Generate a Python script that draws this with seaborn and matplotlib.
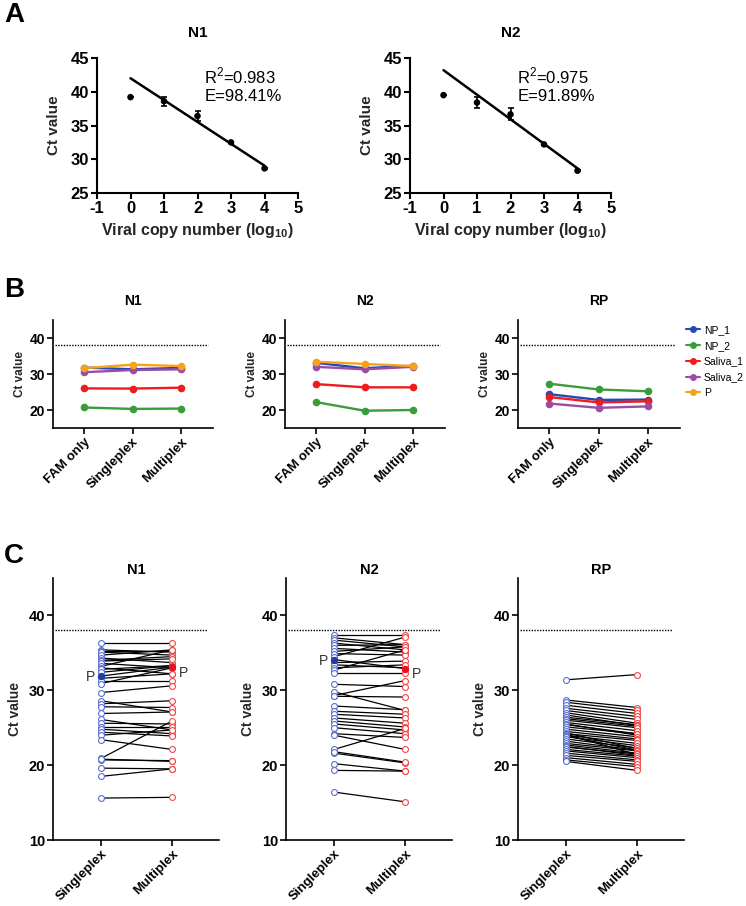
import numpy as np
import pandas as pd
import matplotlib
matplotlib.use('Agg')
import matplotlib.pyplot as plt
import seaborn as sns
from matplotlib.lines import Line2D

sns.set_theme(style='ticks')
plt.rcParams['font.family'] = ['Liberation Sans', 'DejaVu Sans']
plt.rcParams['mathtext.fontset'] = 'custom'
plt.rcParams['mathtext.rm'] = 'Liberation Sans'
plt.rcParams['mathtext.bf'] = 'Liberation Sans:bold'
plt.rcParams['axes.unicode_minus'] = False
plt.rcParams['axes.edgecolor'] = 'black'
plt.rcParams['xtick.color'] = 'black'
plt.rcParams['ytick.color'] = 'black'
plt.rcParams['text.color'] = 'black'

# ---------------- data ----------------
# panel A: standard curves
a_log_copies = [0, 1, 2, 3, 4]
a_n1_ct = [39.2, 38.6, 36.4, 32.5, 28.65]
a_n1_err = [0.0, 0.65, 0.7, 0.1, 0.1]
a_n2_ct = [39.5, 38.4, 36.65, 32.2, 28.3]
a_n2_err = [0.0, 0.85, 0.9, 0.1, 0.1]
a_fit_x = [0, 4]
a_n1_fit = [42.0, 29.05]
a_n2_fit = [43.2, 28.65]
a_n1_text = ['R$^{\\mathrm{2}}$=0.983', 'E=98.41%']
a_n2_text = ['R$^{\\mathrm{2}}$=0.975', 'E=91.89%']

# panel B: sample Ct per assay format
b_conditions = ['FAM only', 'Singleplex', 'Multiplex']
b_samples = ['NP_1', 'NP_2', 'Saliva_1', 'Saliva_2', 'P']
b_colors = ['#2448b4', '#3a9c3a', '#ee1c1c', '#9b4ca6', '#f7a21b']
b_n1 = [[31.8, 31.3, 31.7],
        [20.7, 20.3, 20.4],
        [26.0, 25.95, 26.2],
        [30.5, 31.1, 31.3],
        [31.6, 32.6, 32.2]]
b_n2 = [[33.1, 31.6, 32.3],
        [22.2, 19.8, 20.0],
        [27.2, 26.3, 26.3],
        [32.0, 31.3, 32.0],
        [33.4, 32.8, 32.2]]
b_rp = [[24.4, 22.8, 22.9],
        [27.3, 25.7, 25.2],
        [23.6, 22.1, 22.4],
        [21.8, 20.6, 21.0]]
b_rp_samples = ['NP_1', 'NP_2', 'Saliva_1', 'Saliva_2']

# panel C: paired clinical samples
c_conditions = ['Singleplex', 'Multiplex']
c_n1_single = [36.3, 35.4, 35.2, 35.1, 34.7, 34.3, 34.0, 33.9, 33.6, 33.2, 33.0, 32.8,
               32.4, 31.9, 31.6, 31.2, 30.9, 29.7, 28.6, 28.2, 27.8, 26.9, 26.1, 25.6,
               25.1, 24.8, 24.4, 24.0, 23.4, 20.9, 20.7, 20.8, 19.6, 18.5, 15.6]
c_n1_multi = [36.3, 35.1, 35.2, 34.7, 35.4, 33.7, 34.5, 34.2, 33.0, 35.4, 32.2, 33.3,
              33.3, 33.1, 32.2, 31.2, 33.0, 30.6, 27.1, 28.6, 27.7, 27.1, 24.7, 25.5,
              25.1, 24.2, 23.9, 24.7, 22.1, 25.9, 20.6, 20.5, 19.5, 19.5, 15.7]
c_n1_p = 13
c_n2_single = [37.4, 37.0, 36.7, 36.3, 36.0, 35.6, 35.2, 34.9, 34.5, 34.1, 33.7, 33.4,
               33.0, 32.7, 32.3, 30.8, 29.8, 29.2, 29.3, 27.9, 27.2, 26.8, 26.3, 25.9,
               25.5, 25.0, 24.2, 24.0, 22.1, 21.6, 21.8, 20.2, 19.3, 16.4]
c_n2_multi = [37.4, 36.1, 35.8, 35.4, 36.1, 35.1, 35.8, 34.7, 37.1, 32.9, 33.9, 33.0,
              33.4, 35.4, 32.3, 30.5, 27.3, 29.1, 31.3, 27.4, 26.8, 26.3, 25.6, 25.1,
              24.7, 24.2, 23.7, 22.1, 24.9, 20.3, 20.4, 19.2, 19.2, 15.1]
c_n2_p = 9
c_rp_single = [31.4, 28.7, 28.4, 28.0, 27.6, 27.3, 27.0, 26.7, 26.4, 26.2, 26.0, 25.7,
               25.5, 25.4, 25.1, 24.8, 24.5, 24.3, 24.2, 24.1, 24.0, 23.9, 23.8, 23.5,
               23.2, 22.9, 22.7, 22.5, 22.4, 22.1, 21.9, 21.6, 21.3, 21.0, 20.7, 20.5]
c_rp_multi = [32.1, 27.7, 27.3, 26.9, 26.5, 26.1, 25.6, 25.3, 25.4, 25.2, 25.0, 24.6,
              24.0, 24.2, 24.2, 23.8, 23.5, 22.2, 23.3, 21.4, 22.9, 22.0, 22.6, 22.3,
              22.0, 21.9, 21.6, 21.3, 21.5, 21.2, 21.0, 20.7, 20.5, 20.1, 19.8, 19.3]
cutoff = 38

W, H = 746, 906
fig = plt.figure(figsize=(W / 100, H / 100), dpi=100)


def add_ax(left, right, top, bottom):
    return fig.add_axes([left / W, 1 - bottom / H, (right - left) / W, (bottom - top) / H])


def style(ax, fs, lw, xfs=None):
    sns.despine(ax=ax)
    for s in ['left', 'bottom']:
        ax.spines[s].set_linewidth(lw)
    ax.tick_params(width=lw, length=4, labelsize=fs, pad=1.5)
    if xfs is not None:
        ax.tick_params(axis='x', labelsize=xfs)
    for lbl in ax.get_xticklabels() + ax.get_yticklabels():
        lbl.set_fontweight('bold')


# ---------------- panel A ----------------
a_sets = [('N1', a_n1_ct, a_n1_err, a_n1_fit, a_n1_text, 97, 298),
          ('N2', a_n2_ct, a_n2_err, a_n2_fit, a_n2_text, 410, 611)]
for title, ct, err, fit, txt, l, r in a_sets:
    ax = add_ax(l, r, 58, 193)
    sns.lineplot(x=a_fit_x, y=fit, color='black', linewidth=1.8, ax=ax)
    ax.errorbar(a_log_copies, ct, yerr=err, fmt='none', ecolor='black',
                elinewidth=1.2, capsize=2.5, capthick=1.2)
    sns.scatterplot(x=a_log_copies, y=ct, color='black', s=22, edgecolor='none', ax=ax)
    ax.set_xlim(-1, 5)
    ax.set_ylim(25, 45)
    ax.set_xticks(range(-1, 6))
    ax.set_yticks(range(25, 46, 5))
    style(ax, 12, 1.5)
    ax.set_xlabel(r'Viral copy number (log$_{\mathbf{10}}$)', fontsize=11.5,
                  fontweight='bold', labelpad=4)
    ax.set_ylabel('Ct value', fontsize=11, fontweight='bold', labelpad=7)
    ax.set_title(title, fontsize=11, fontweight='bold', pad=15)
    ax.text(2.2, 42.3, txt[0], fontsize=12, va='center', ha='left')
    ax.text(2.2, 39.3, txt[1], fontsize=12, va='center', ha='left')

# ---------------- panel B ----------------
b_sets = [('N1', b_n1, b_samples, 53, 213),
          ('N2', b_n2, b_samples, 285, 445),
          ('RP', b_rp, b_rp_samples, 518, 680)]
palette = dict(zip(b_samples, b_colors))
for title, vals, samples, l, r in b_sets:
    ax = add_ax(l, r, 320, 428)
    rows = []
    for name, series in zip(samples, vals):
        for i, v in enumerate(series):
            rows.append({'sample': name, 'pos': i, 'ct': v})
    df = pd.DataFrame(rows)
    sns.lineplot(data=df, x='pos', y='ct', hue='sample', palette=palette,
                 marker='o', markersize=5.5, markeredgewidth=0, linewidth=1.7,
                 legend=False, ax=ax)
    ax.axhline(cutoff, xmin=0.01, xmax=0.97, color='black', linestyle=(0, (1, 1)),
               linewidth=1)
    ax.set_xlim(-0.64, 2.66)
    ax.set_ylim(15, 45)
    ax.set_yticks([20, 30, 40])
    ax.set_xticks(range(len(b_conditions)))
    ax.set_xticklabels(b_conditions, rotation=45, ha='right', rotation_mode='anchor')
    style(ax, 10, 1.2, xfs=9.5)
    ax.set_xlabel('')
    ax.set_ylabel('Ct value', fontsize=8.5, fontweight='bold', labelpad=3)
    ax.set_title(title, fontsize=10, fontweight='bold', pad=11)

handles = [Line2D([], [], color=c, marker='o', markersize=5, markeredgewidth=0,
                  linewidth=1.5) for c in b_colors]
fig.legend(handles, b_samples, loc='upper left', bbox_to_anchor=(686 / W, 1 - 325 / H),
           frameon=False, fontsize=7.5, handlelength=1.3, handletextpad=0.4,
           labelspacing=0.55, borderpad=0, borderaxespad=0)

# ---------------- panel C ----------------
c_sets = [('N1', c_n1_single, c_n1_multi, c_n1_p, 53, 219),
          ('N2', c_n2_single, c_n2_multi, c_n2_p, 286, 452),
          ('RP', c_rp_single, c_rp_multi, None, 518, 684)]
for title, single, multi, p_idx, l, r in c_sets:
    ax = add_ax(l, r, 578, 840)
    rows = []
    for k, (s, m) in enumerate(zip(single, multi)):
        rows.append({'pair': k, 'pos': 0, 'ct': s})
        rows.append({'pair': k, 'pos': 1, 'ct': m})
    df = pd.DataFrame(rows)
    sns.lineplot(data=df, x='pos', y='ct', units='pair', estimator=None,
                 color='black', linewidth=0.9, ax=ax)
    ax.scatter(np.zeros(len(single)), single, s=18, facecolors='white',
               edgecolors='#5b6fcf', linewidths=0.8, zorder=3)
    ax.scatter(np.ones(len(multi)), multi, s=18, facecolors='white',
               edgecolors='#f04848', linewidths=0.8, zorder=3)
    if p_idx is not None:
        ax.scatter([0], [single[p_idx]], s=18, color='#1f3fa8', zorder=4)
        ax.scatter([1], [multi[p_idx]], s=18, color='#e8101a', zorder=4)
        ax.annotate('P', (0, single[p_idx]), xytext=(-4, -1), textcoords='offset points',
                    ha='right', va='center', fontsize=10, color='#333333')
        ax.annotate('P', (1, multi[p_idx]), xytext=(5, -4), textcoords='offset points',
                    ha='left', va='center', fontsize=10, color='#333333')
    ax.axhline(cutoff, xmin=0.01, xmax=0.93, color='black', linestyle=(0, (1, 1)),
               linewidth=1)
    ax.set_xlim(-0.676, 1.66)
    ax.set_ylim(10, 45)
    ax.set_yticks([10, 20, 30, 40])
    ax.set_xticks(range(len(c_conditions)))
    ax.set_xticklabels(c_conditions, rotation=45, ha='right', rotation_mode='anchor')
    style(ax, 10.5, 1.2, xfs=9.5)
    ax.set_xlabel('')
    ax.set_ylabel('Ct value', fontsize=10, fontweight='bold', labelpad=5)
    ax.set_title(title, fontsize=10.5, fontweight='bold', pad=3)

# panel letters
fig.text(4 / W, 1 - 15 / H, 'A', fontsize=20, fontweight='bold', va='center')
fig.text(4 / W, 1 - 290 / H, 'B', fontsize=20, fontweight='bold', va='center')
fig.text(4 / W, 1 - 556 / H, 'C', fontsize=20, fontweight='bold', va='center')

fig.savefig('out.png', dpi=100)
